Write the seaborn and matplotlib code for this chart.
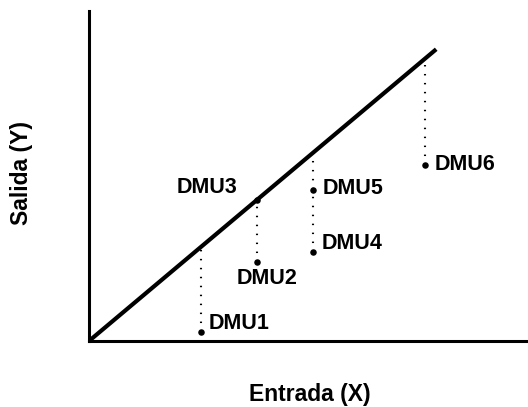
import matplotlib
matplotlib.use("Agg")
import matplotlib.pyplot as plt
import seaborn as sns
import pandas as pd

# Datos del gráfico (frontera y DMUs)
frontier_x = [0.0, 6.2]
frontier_y = [0.0, 5.21]

dmu_names = ["DMU1", "DMU2", "DMU3", "DMU4", "DMU5", "DMU6"]
dmu_x = [2.0, 3.0, 3.0, 4.0, 4.0, 6.0]
dmu_y = [0.16, 1.41, 2.52, 1.59, 2.70, 3.14]

x_label = "Entrada (X)"
y_label = "Salida (Y)"

df = pd.DataFrame({"dmu": dmu_names, "x": dmu_x, "y": dmu_y})
slope = frontier_y[1] / frontier_x[1]

sns.set_style("white")
plt.rcParams["font.family"] = ["Liberation Sans", "DejaVu Sans"]
plt.rcParams["text.color"] = "black"
plt.rcParams["axes.labelcolor"] = "black"

fig = plt.figure(figsize=(5.28, 4.07), dpi=100)
ax = fig.add_axes([89 / 528, 66 / 407, 439 / 528, 330 / 407])

# frontera eficiente
sns.lineplot(x=frontier_x, y=frontier_y, ax=ax, color="black", linewidth=3.0,
             solid_capstyle="butt")

# distancias punteadas hasta la frontera
for xv in sorted(set(dmu_x)):
    y_min = min(df.loc[df.x == xv, "y"])
    y_top = slope * xv
    if y_top - y_min > 0.05:
        ax.plot([xv, xv], [y_min, y_top], color="black", linewidth=1.5,
                linestyle=(0, (0.7, 3.6)), dash_capstyle="butt")

sns.scatterplot(data=df, x="x", y="y", ax=ax, color="black", s=22,
                edgecolor="black", linewidth=0, zorder=5)

# posición de cada etiqueta (desplazamiento en puntos)
offsets = {
    "DMU1": ((5.8, 5.8), "left"),
    "DMU2": ((-14.4, -12.2), "left"),
    "DMU3": ((-14.4, 8.6), "right"),
    "DMU4": ((6.5, 5.8), "left"),
    "DMU5": ((7.2, 0.7), "left"),
    "DMU6": ((7.2, 0.7), "left"),
}
for _, r in df.iterrows():
    off, ha = offsets[r.dmu]
    ax.annotate(r.dmu, (r.x, r.y), xytext=off, textcoords="offset points",
                ha=ha, va="center", fontsize=15.5, fontweight="bold",
                color="black")

ax.set_xlim(0, 439 / 56)
ax.set_ylim(0, 330 / 56)
ax.set_xticks([])
ax.set_yticks([])
for s in ["top", "right"]:
    ax.spines[s].set_visible(False)
for s in ["left", "bottom"]:
    ax.spines[s].set_color("black")
    ax.spines[s].set_linewidth(2.2)

ax.set_xlabel(x_label, fontsize=16.5, fontweight="bold", color="black")
ax.set_ylabel(y_label, fontsize=16.5, fontweight="bold", color="black")
ax.xaxis.set_label_coords(0.503, -0.128)
ax.yaxis.set_label_coords(-0.128, 0.51)

fig.savefig("out.png", dpi=100)
